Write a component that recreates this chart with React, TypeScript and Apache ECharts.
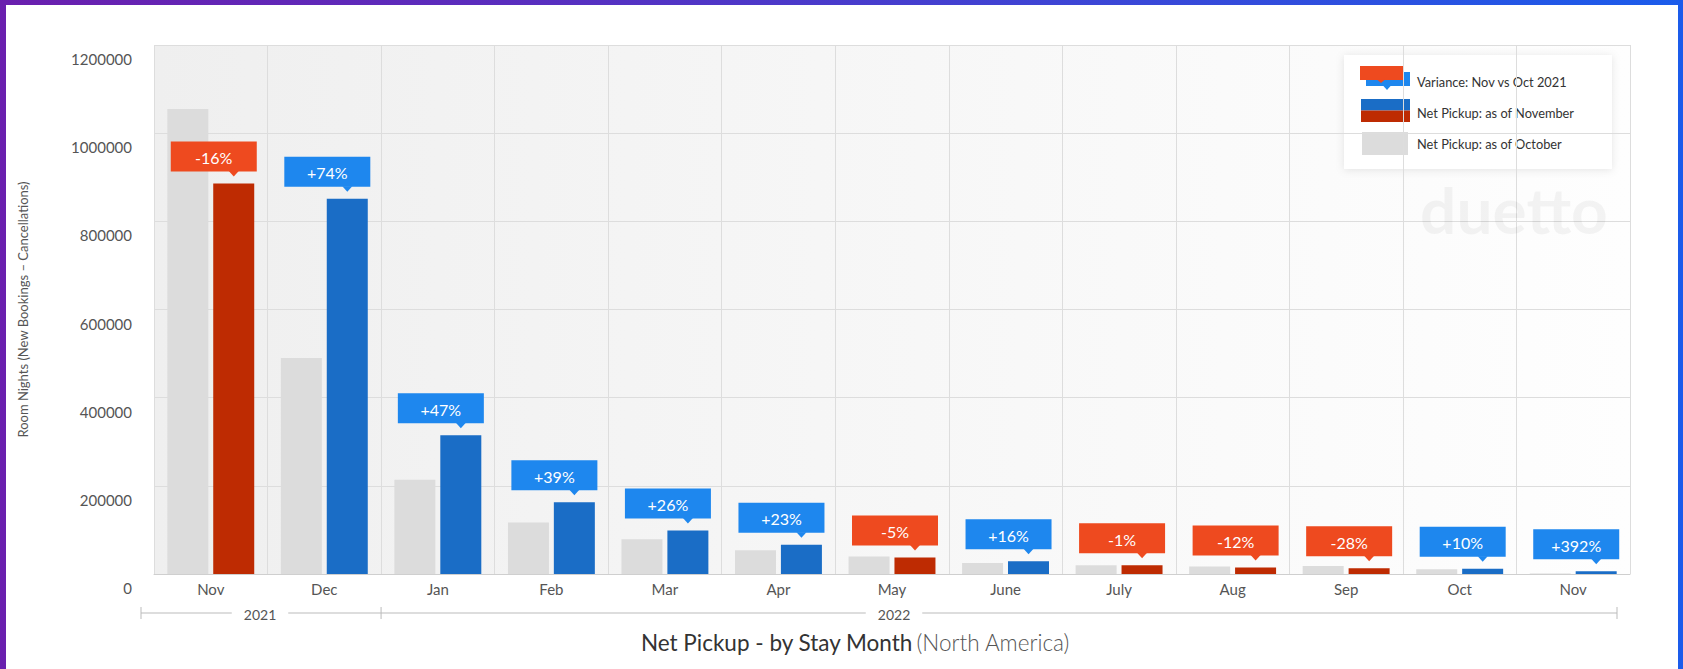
import React, { useEffect, useRef } from "react";
import * as echarts from "echarts";

const categories = ["Nov", "Dec", "Jan", "Feb", "Mar", "Apr", "May", "June", "July", "Aug", "Sep", "Oct", "Nov"];
const yearGroups = ["2021", "2022"];
const pickupOctober = [1055000, 490000, 214000, 117000, 79000, 54000, 39500, 25000, 19800, 17000, 18000, 11000, 1250];
const pickupNovember = [886000, 851000, 315000, 162500, 98500, 66300, 37500, 29000, 19600, 15000, 13000, 12100, 6150];
const variancePct = [-16, 74, 47, 39, 26, 23, -5, 16, -1, -12, -28, 10, 392];
const yMax = 1200000;
const yStep = 200000;

const FONT = "Lato, 'Open Sans', sans-serif";
const GRID_LEFT = 154;
const GRID_RIGHT = 53;
const GRID_TOP = 45;
const GRID_BOTTOM = 95;
const W = 1683;
const H = 669;

export default function App() {
  const ref = useRef<HTMLDivElement>(null);

  useEffect(() => {
    if (!ref.current) return;
    const chart = echarts.init(ref.current, undefined, { renderer: "svg" });
    const catW = (W - GRID_LEFT - GRID_RIGHT) / categories.length;
    const groupY = 613;
    const lineL = GRID_LEFT - 13;
    const lineMid = GRID_LEFT + catW * 2;
    const lineR = W - GRID_RIGHT - 13;

    const negRed = "#BE2B02";
    const posBlue = "#1A6DC6";
    const calloutRed = "#EE4A1F";
    const calloutBlue = "#1E87EE";

    const option: any = {
      animation: false,
      textStyle: { fontFamily: FONT },
      grid: {
        left: GRID_LEFT,
        right: GRID_RIGHT,
        top: GRID_TOP,
        bottom: GRID_BOTTOM,
        show: true,
        borderWidth: 0,
        backgroundColor: new echarts.graphic.LinearGradient(0, 0, 1, 0, [
          { offset: 0, color: "#EFEFEF" },
          { offset: 0.45, color: "#F6F6F6" },
          { offset: 1, color: "#FEFEFE" },
        ]),
      },
      xAxis: {
        type: "category",
        data: categories,
        axisTick: { show: false },
        axisLine: { lineStyle: { color: "#CFCFCF" } },
        axisLabel: { color: "#555", fontSize: 15, margin: 7, fontFamily: FONT },
        splitLine: { show: true, interval: 0, lineStyle: { color: "#DDDDDD" } },
      },
      yAxis: {
        type: "value",
        min: 0,
        max: yMax,
        interval: yStep,
        axisLine: { show: false },
        axisTick: { show: false },
        splitLine: { lineStyle: { color: "#DDDDDD" } },
        axisLabel: {
          color: "#555",
          fontSize: 15,
          margin: 22,
          fontFamily: FONT,
          verticalAlign: "middle",
          lineHeight: 28,
          formatter: (v: number) => "\n" + String(v),
        },
        name: "Room Nights (New Bookings \u2013 Cancellations)",
        nameLocation: "middle",
        nameRotate: 90,
        nameGap: 125,
        nameTextStyle: { color: "#555", fontSize: 13, fontFamily: FONT },
      },
      series: [
        {
          name: "Net Pickup: as of October",
          type: "bar",
          data: pickupOctober,
          barWidth: 41,
          barGap: "12%",
          itemStyle: { color: "#DCDCDC" },
        },
        {
          name: "Net Pickup: as of November",
          type: "bar",
          barWidth: 41,
          barGap: "12%",
          data: pickupNovember.map((v, i) => ({
            value: v,
            itemStyle: { color: variancePct[i] < 0 ? negRed : posBlue },
          })),
        },
        {
          name: "Variance: Nov vs Oct 2021",
          type: "custom",
          z: 10,
          clip: false,
          encode: { x: 0, y: 1 },
          data: categories.map((_, i) => [i, pickupNovember[i], variancePct[i]]),
          renderItem: (params: any, api: any) => {
            const idx = api.value(0);
            const val = api.value(1);
            const pct = api.value(2);
            const pt = api.coord([idx, val]);
            const cx = pt[0];
            const top = pt[1];
            const boxW = 86;
            const boxH = 30;
            const boxX = cx - 40;
            const boxBottom = top - 12;
            const boxY = boxBottom - boxH;
            const px = cx + 23;
            const fill = pct < 0 ? calloutRed : calloutBlue;
            const label = (pct > 0 ? "+" : "") + pct + "%";
            return {
              type: "group",
              children: [
                {
                  type: "rect",
                  shape: { x: boxX, y: boxY, width: boxW, height: boxH },
                  style: { fill },
                },
                {
                  type: "polygon",
                  shape: {
                    points: [
                      [px - 5, boxBottom - 0.5],
                      [px + 5, boxBottom - 0.5],
                      [px, boxBottom + 5],
                    ],
                  },
                  style: { fill },
                },
                {
                  type: "text",
                  x: boxX + boxW / 2,
                  y: boxY + boxH / 2 + 1,
                  style: {
                    text: label,
                    fill: "#FFFFFF",
                    fontSize: 16,
                    fontFamily: FONT,
                    align: "center",
                    verticalAlign: "middle",
                  },
                },
              ],
            };
          },
        },
      ],
      graphic: [
        // watermark
        {
          type: "text",
          x: 1514,
          y: 209,
          z: 50,
          silent: true,
          style: {
            text: "duetto",
            fill: "rgba(0,0,0,0.045)",
            fontSize: 64,
            fontWeight: "bold",
            fontFamily: FONT,
            align: "center",
            verticalAlign: "middle",
          },
        },
        // legend box
        {
          type: "group",
          z: 100,
          children: [
            {
              type: "rect",
              shape: { x: 1344, y: 55, width: 268, height: 114 },
              style: {
                fill: "#FFFFFF",
                shadowBlur: 8,
                shadowColor: "rgba(0,0,0,0.10)",
                shadowOffsetX: 0,
                shadowOffsetY: 1,
              },
            },
            {
              type: "rect",
              shape: { x: 1366, y: 72, width: 44, height: 14 },
              style: { fill: calloutBlue },
            },
            {
              type: "polygon",
              shape: { points: [[1383, 85.5], [1391, 85.5], [1387, 90]] },
              style: { fill: calloutBlue },
            },
            {
              type: "rect",
              shape: { x: 1360, y: 66, width: 43, height: 14 },
              style: { fill: calloutRed },
            },
            {
              type: "polygon",
              shape: { points: [[1377, 79.5], [1385, 79.5], [1381, 83]] },
              style: { fill: calloutRed },
            },
            {
              type: "rect",
              shape: { x: 1361, y: 99, width: 49, height: 11.5 },
              style: { fill: posBlue },
            },
            {
              type: "rect",
              shape: { x: 1361, y: 110.5, width: 49, height: 11.5 },
              style: { fill: negRed },
            },
            {
              type: "rect",
              shape: { x: 1362, y: 132, width: 46, height: 23 },
              style: { fill: "#DCDCDC" },
            },
            {
              type: "text",
              x: 1417,
              y: 81.5,
              style: { text: "Variance: Nov vs Oct 2021", fill: "#333", fontSize: 12.8, fontFamily: FONT, align: "left", verticalAlign: "middle" },
            },
            {
              type: "text",
              x: 1417,
              y: 112.5,
              style: { text: "Net Pickup: as of November", fill: "#333", fontSize: 12.8, fontFamily: FONT, align: "left", verticalAlign: "middle" },
            },
            {
              type: "text",
              x: 1417,
              y: 143.5,
              style: { text: "Net Pickup: as of October", fill: "#333", fontSize: 12.8, fontFamily: FONT, align: "left", verticalAlign: "middle" },
            },
          ],
        },
        // grouped year axis
        {
          type: "line",
          shape: { x1: lineL, y1: groupY, x2: lineR, y2: groupY },
          style: { stroke: "#BBBBBB", lineWidth: 1 },
        },
        ...[lineL, lineMid, lineR].map((x) => ({
          type: "line",
          shape: { x1: x, y1: groupY - 6, x2: x, y2: groupY + 6 },
          style: { stroke: "#BBBBBB", lineWidth: 1 },
        })),
        {
          type: "text",
          x: 260,
          y: groupY + 1,
          z: 5,
          style: {
            text: yearGroups[0],
            fill: "#555",
            fontSize: 14,
            fontFamily: FONT,
            align: "center",
            verticalAlign: "middle",
            backgroundColor: "#FFFFFF",
            padding: [2, 12, 2, 12],
          },
        },
        {
          type: "text",
          x: 894,
          y: groupY + 1,
          z: 5,
          style: {
            text: yearGroups[1],
            fill: "#555",
            fontSize: 14,
            fontFamily: FONT,
            align: "center",
            verticalAlign: "middle",
            backgroundColor: "#FFFFFF",
            padding: [2, 12, 2, 12],
          },
        },
        // title
        {
          type: "text",
          x: 855,
          y: 642,
          style: {
            text: "{a|Net Pickup - by Stay Month} {b|(North America)}",
            align: "center",
            verticalAlign: "middle",
            rich: {
              a: { fontSize: 22.5, fontFamily: FONT, fill: "#333", color: "#333" },
              b: { fontSize: 22.5, fontFamily: FONT, fontWeight: 300, fill: "#555", color: "#555" },
            },
          },
        },
      ],
    };

    chart.setOption(option);
    return () => chart.dispose();
  }, []);

  return (
    <div
      style={{
        position: "absolute",
        left: 0,
        top: 0,
        width: W,
        height: H,
        overflow: "hidden",
        background: "linear-gradient(90deg, #6A1FAE 0%, #5A2DBE 30%, #3C46D6 65%, #1B5CEB 100%)",
      }}
    >
      <div style={{ position: "absolute", left: 6, top: 5, width: 1672, height: 664, background: "#FFFFFF" }} />
      <div ref={ref} style={{ position: "absolute", left: 0, top: 0, width: W, height: H }} />
    </div>
  );
}
